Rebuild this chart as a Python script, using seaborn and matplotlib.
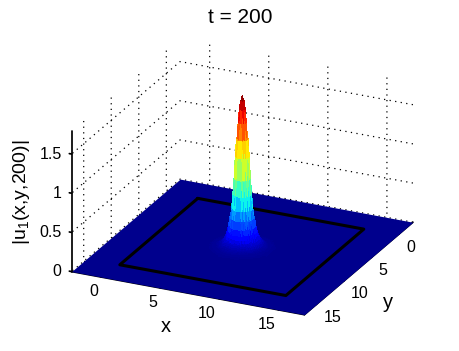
import numpy as np
import matplotlib
matplotlib.use("Agg")
import matplotlib.pyplot as plt
import seaborn as sns
from matplotlib import colors
from mpl_toolkits.mplot3d import proj3d

# values
x_limits = [-2.5, 17.2]
y_limits = [17.2, -2.5]  # y runs backwards
z_limits = [0, 1.79]
ticks_xy = [0, 5, 10, 15]
ticks_z = [0, 0.5, 1, 1.5]
tick_labels_z = ["0", "0.5", "1", "1.5"]
square_x = [0.3, 14.35, 14.35, 0.3, 0.3]
square_y = [0.3, 0.3, 14.45, 14.45, 0.3]
peak_centre = [7.35, 7.35]
# height of |u| for each ring around the peak, one ring every 0.1
peak_rings = [1.93, 1.87, 1.76, 1.59, 1.38, 1.16, 0.88, 0.68, 0.50, 0.38,
              0.28, 0.21, 0.16, 0.12, 0.09, 0.07, 0.05, 0.04, 0.03, 0.02,
              0.015, 0.012, 0.01, 0.008, 0.005, 0.0]

sns.set_theme(style="white", rc={
    "grid.linestyle": (0, (1, 3.5)),
    "grid.color": "black",
    "grid.linewidth": 0.9,
    "axes.grid": True,
})
plt.rcParams["font.family"] = ["Liberation Sans", "DejaVu Sans"]
plt.rcParams["mathtext.default"] = "regular"

fig = plt.figure(figsize=(4.59, 3.51), dpi=100)
ax = fig.add_axes([8 / 459, -6 / 351, 1, 1], projection="3d", computed_zorder=False)
ax.set_proj_type("ortho")
ax.view_init(elev=23.4, azim=-65)
ax.set_box_aspect((1, 1, 0.595), zoom=1.09)
ax.patch.set_alpha(0)

cmap = plt.get_cmap("jet")
norm = colors.Normalize(vmin=-0.03, vmax=1.93)

# flat floor
floor_x, floor_y = np.meshgrid(x_limits, y_limits)
ax.plot_surface(floor_x, floor_y, np.zeros_like(floor_x), color=cmap(norm(0)),
                shade=False, linewidth=0, antialiased=False, zorder=1)

# black square lying on the floor
ax.plot(square_x, square_y, [0] * 5, color="black", lw=2.2, zorder=2)

# the peak, looked up ring by ring
grid_x = np.arange(peak_centre[0] - 2.5, peak_centre[0] + 2.5, 0.1)
grid_y = np.arange(peak_centre[1] - 2.5, peak_centre[1] + 2.5, 0.1)
peak_x, peak_y = np.meshgrid(grid_x, grid_y)
rings = np.round(np.hypot(peak_x - peak_centre[0], peak_y - peak_centre[1]) / 0.1).astype(int)
rings = np.clip(rings, 0, len(peak_rings) - 1)
peak_z = np.array(peak_rings)[rings]
ax.plot_surface(peak_x, peak_y, peak_z, cmap=cmap, norm=norm, rstride=1, cstride=1,
                shade=False, linewidth=0, antialiased=False, zorder=3)

ax.set_xlim(x_limits, view_margin=0)
ax.set_ylim(y_limits, view_margin=0)
ax.set_zlim(z_limits, view_margin=0)
ax.set_xticks(ticks_xy)
ax.set_yticks(ticks_xy)
ax.set_zticks(ticks_z)
ax.set_zticklabels([""] * len(ticks_z))
ax.tick_params(labelsize=11.5, colors="black")
ax.tick_params(axis="x", pad=-4)
ax.tick_params(axis="y", pad=-4)
for label in ax.get_xticklabels():
    label.set_ha("right")
for label in ax.get_yticklabels():
    label.set_ha("left")

for axis in [ax.xaxis, ax.yaxis, ax.zaxis]:
    axis.set_pane_color((1, 1, 1, 0))
    axis.pane.set_edgecolor("white")
    axis.line.set_color("black")
    axis._axinfo["tick"].update(inward_factor=0.0, outward_factor=0.12)
ax.zaxis.set_ticks_position("upper")

# z tick labels sit right aligned next to the axis, the 3d axis can't place them so
for z, text in zip(ticks_z, tick_labels_z):
    px, py, _ = proj3d.proj_transform(x_limits[0], y_limits[0], z, ax.get_proj())
    ax.annotate(text, xy=(px, py), xycoords="data", xytext=(-10, 0), textcoords="offset pixels",
                ha="right", va="center", fontsize=11.5, color="black", annotation_clip=False)

fig.text(166 / 459, 1 - 327 / 351, "x", ha="center", va="center", fontsize=14.5, color="black")
fig.text(388 / 459, 1 - 302 / 351, "y", ha="center", va="center", fontsize=14.5, color="black")
fig.text(22 / 459, 1 - 192 / 351, "|u$_1$(x,y,200)|", ha="center", va="center", rotation=90,
         fontsize=14, color="black")
fig.text(0.523, 0.95, "t = 200", ha="center", va="center", fontsize=15, color="black")

fig.savefig("out.png", dpi=100)
